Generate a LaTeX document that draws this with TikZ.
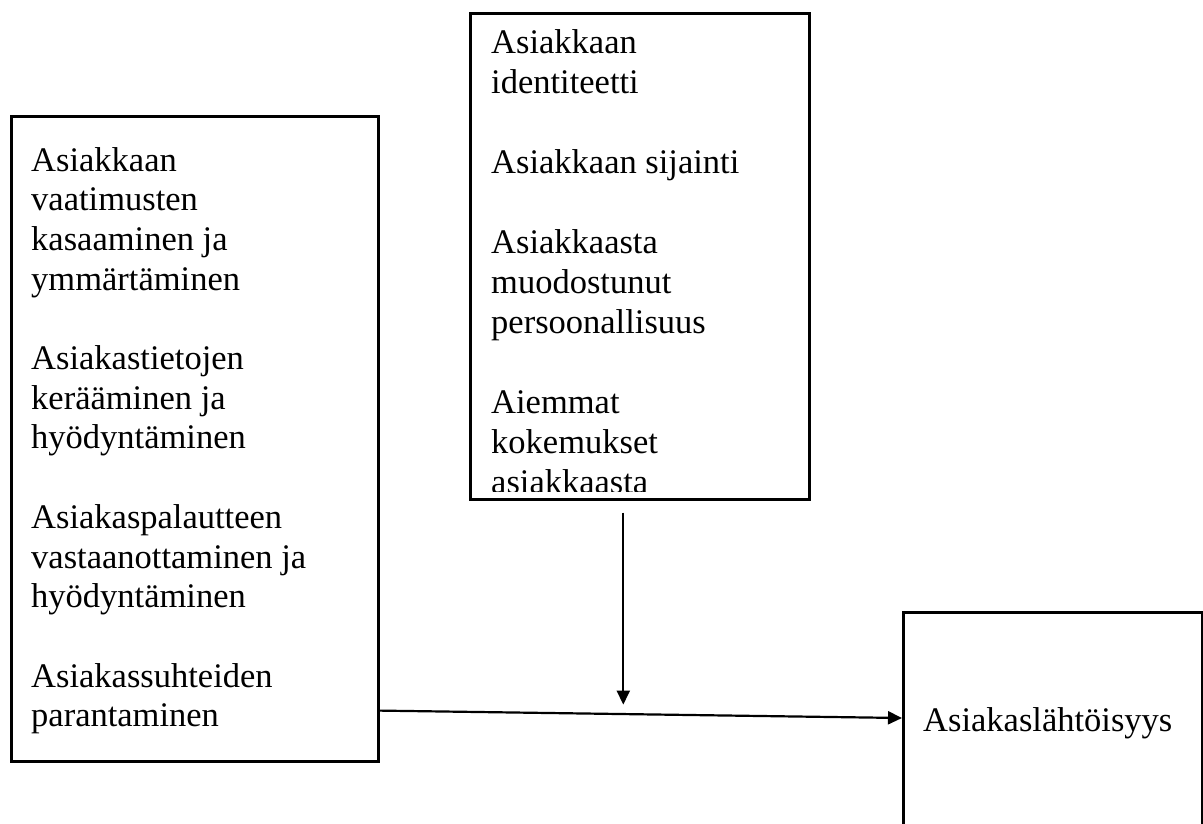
\documentclass[tikz,border=0pt]{standalone}
\usepackage{fontspec}
\setmainfont{Liberation Serif}
\usetikzlibrary{arrows.meta, calc, positioning}

\newcommand{\gap}{39.7pt}

\begin{document}
\begin{tikzpicture}[
  x=1pt, y=-1pt,
  >={Triangle[length=14pt, width=13pt]},
  box/.style={draw, line width=2.6pt, inner sep=0pt, anchor=north west},
  txt/.style={anchor=base west, inner sep=0pt, font=\fontsize{34.5}{39.7}\selectfont},
  link/.style={->, line width=2.2pt},
]

% ══════════════════════════════════════════════════════
% Page frame
% ══════════════════════════════════════════════════════
\useasboundingbox (0,0) rectangle (1203,823);

% ══════════════════════════════════════════════════════
% Boxes
% ══════════════════════════════════════════════════════
% Left box: customer practices
\node[box, minimum width=367pt, minimum height=645pt] (practices) at (10,115) {};
% Middle box: customer factors
\node[box, minimum width=339pt, minimum height=486pt] (factors) at (469,12) {};
% Right box: outcome (runs off the page at the bottom)
\node[box, minimum width=299pt, minimum height=240pt] (outcome) at (902,611) {};

% ══════════════════════════════════════════════════════
% Box texts
% ══════════════════════════════════════════════════════
\node[txt] (practicesText) at (31,171) {\parbox[t]{340pt}{\raggedright
  Asiakkaan\\
  vaatimusten\\
  kasaaminen ja\\
  ymmärtäminen\\[\gap]
  Asiakastietojen\\
  kerääminen ja\\
  hyödyntäminen\\[\gap]
  Asiakaspalautteen\\
  vastaanottaminen ja\\
  hyödyntäminen\\[\gap]
  Asiakassuhteiden\\
  parantaminen}};

% the last line is cut by the box
\begin{scope}
  \clip (factors.north west) rectangle ([yshift=9pt]factors.south east);
  \node[txt, font=\fontsize{34.5}{40}\selectfont] (factorsText) at (491,53)
    {\parbox[t]{310pt}{\raggedright
    Asiakkaan\\
    identiteetti\\[40pt]
    Asiakkaan sijainti\\[40pt]
    Asiakkaasta\\
    muodostunut\\
    persoonallisuus\\[40pt]
    Aiemmat\\
    kokemukset\\
    asiakkaasta}};
\end{scope}

\node[txt] (outcomeText) at (923,731) {Asiakaslähtöisyys};

% ══════════════════════════════════════════════════════
% Arrows
% ══════════════════════════════════════════════════════
\coordinate (downStart) at ([xshift=-16.5pt, yshift=-12pt]factors.south);
\coordinate (downEnd) at ([yshift=-192pt]downStart);
\draw[link] (downStart) -- (downEnd);

\coordinate (flowStart) at ([yshift=52pt]practices.south east);
\coordinate (flowEnd) at ([yshift=-107pt]outcome.north west);
\draw[link] (flowStart) -- (flowEnd);

\end{tikzpicture}
\end{document}
